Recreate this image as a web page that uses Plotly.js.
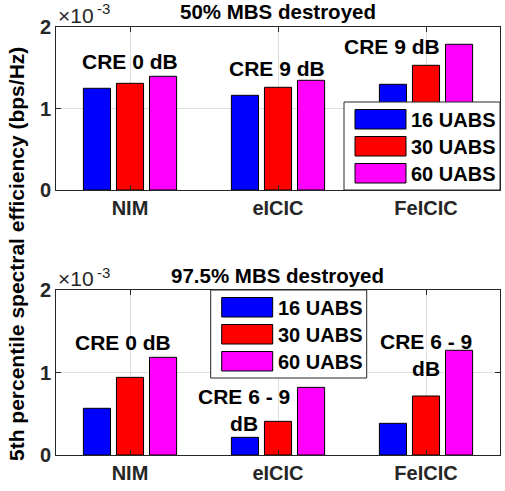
<!DOCTYPE html>
<html>
<head>
<meta charset="utf-8">
<script src="https://cdn.plot.ly/plotly-3.0.1.min.js"></script>
<style>html,body{margin:0;padding:0;background:#fff;}#chart{width:505px;height:491px;}</style>
</head>
<body>
<div id="chart"></div>
<script>
// ---- data (values in units of 1e-3 bps/Hz) ----
const categories = ["NIM", "eICIC", "FeICIC"];
const seriesNames = ["16 UABS", "30 UABS", "60 UABS"];
const seriesColors = ["#0000ff", "#ff0000", "#ff00ff"];
const top16 = [1.248, 1.162, 1.297];
const top30 = [1.309, 1.260, 1.530];
const top60 = [1.395, 1.346, 1.788];
const bot16 = [0.566, 0.214, 0.384];
const bot30 = [0.941, 0.408, 0.715];
const bot60 = [1.184, 0.820, 1.269];
const topTitle = "50% MBS destroyed";
const botTitle = "97.5% MBS destroyed";
const yTitle = "5th percentile spectral efficiency (bps/Hz)";
const topNotes = [["CRE 0 dB", 0, 1.571], ["CRE 9 dB", 0.99, 1.485], ["CRE 9 dB", 1.77, 1.755]];
const botNotes = [["CRE 0 dB", -0.045, 1.364], ["CRE 6 - 9<br>dB", 0.77, 0.545], ["CRE 6 - 9<br>dB", 2.0, 1.218]];
const yTickVals = [0, 1, 2];
const expBase = "×10";
const expPower = "-3";

const W = 505, H = 491;
const px = x => x / W;
const py = y => 1 - y / H;
const ink = "#262626";
const FONT = "Liberation Sans, Arial, sans-serif";

const traces = [];
[[top16, top30, top60, "x", "y"], [bot16, bot30, bot60, "x2", "y2"]].forEach(([a, b, c, xa, ya]) => {
  [a, b, c].forEach((vals, i) => {
    traces.push({
      type: "bar", x: categories, y: vals, xaxis: xa, yaxis: ya,
      name: seriesNames[i], showlegend: false,
      marker: {color: seriesColors[i], line: {color: "#000", width: 1}},
      hoverinfo: "skip"
    });
  });
});

function xaxisDef(anchor) {
  return {
    domain: [px(56), px(500)], anchor: anchor, type: "category",
    range: [-0.5, 2.5], showline: true, mirror: "ticks", linecolor: ink, linewidth: 1,
    ticks: "inside", ticklen: 5, tickcolor: ink, showgrid: true, gridcolor: "#dfdfdf",
    tickfont: {family: FONT, size: 20, color: ink, weight: "bold"}, zeroline: false,
    fixedrange: true
  };
}
function yaxisDef(anchor, y0, y1) {
  return {
    domain: [py(y1), py(y0)], anchor: anchor, range: [0, 2],
    tickvals: yTickVals, ticktext: yTickVals.map(String),
    showline: true, mirror: "ticks", linecolor: ink, linewidth: 1,
    ticks: "inside", ticklen: 5, tickcolor: ink, showgrid: true, gridcolor: "#dfdfdf",
    tickfont: {family: FONT, size: 20, color: ink, weight: "bold"}, zeroline: false,
    fixedrange: true
  };
}

const annotations = [];
const shapes = [];
function note(text, x, y, xr, yr) {
  annotations.push({text: text, x: x, y: y, xref: xr, yref: yr, showarrow: false,
    xanchor: "center", yanchor: "middle",
    font: {family: FONT, size: 21, color: "#000", weight: "bold"}});
}
topNotes.forEach(n => note(n[0], n[1], n[2], "x", "y"));
botNotes.forEach(n => note(n[0], n[1], n[2], "x2", "y2"));

// subplot titles
[[topTitle, 12], [botTitle, 275.5]].forEach(([t, y]) => {
  annotations.push({text: t, x: px(277.5), y: py(y), xref: "paper", yref: "paper",
    showarrow: false, xanchor: "center", yanchor: "middle",
    font: {family: FONT, size: 20.5, color: "#000", weight: "bold"}});
});
// exponent labels
[15, 278].forEach(y => {
  annotations.push({text: expBase, x: px(56), y: py(y), xref: "paper", yref: "paper",
    showarrow: false, xanchor: "left", yanchor: "middle",
    font: {family: FONT, size: 21, color: ink}});
  annotations.push({text: expPower, x: px(95), y: py(y - 6), xref: "paper", yref: "paper",
    showarrow: false, xanchor: "left", yanchor: "middle",
    font: {family: FONT, size: 15, color: ink}});
});
// y title
annotations.push({text: yTitle, x: px(16), y: py(254), xref: "paper", yref: "paper",
  showarrow: false, textangle: -90, xanchor: "center", yanchor: "middle",
  font: {family: FONT, size: 21, color: "#000", weight: "bold"}});

// legends (drawn boxes)
function legend(x0, y0) {
  shapes.push({type: "rect", xref: "paper", yref: "paper", x0: px(x0), x1: px(x0 + 156),
    y0: py(y0 + 88), y1: py(y0), fillcolor: "#fff", line: {color: ink, width: 1}, layer: "above"});
  seriesNames.forEach((nm, i) => {
    const ry = y0 + 7.5 + i * 27;
    shapes.push({type: "rect", xref: "paper", yref: "paper", x0: px(x0 + 11), x1: px(x0 + 62),
      y0: py(ry + 19.5), y1: py(ry), fillcolor: seriesColors[i], line: {color: "#000", width: 1}, layer: "above"});
    annotations.push({text: nm, x: px(x0 + 65), y: py(ry + 10), xref: "paper", yref: "paper",
      showarrow: false, xanchor: "left", yanchor: "middle",
      font: {family: FONT, size: 20, color: "#000", weight: "bold"}});
  });
}
legend(344, 102);
legend(210.7, 290);

const layout = {
  width: W, height: H, margin: {l: 0, r: 0, t: 0, b: 0},
  paper_bgcolor: "#fff", plot_bgcolor: "#fff",
  barmode: "group", bargap: 0.33, bargroupgap: 0.18,
  showlegend: false,
  xaxis: xaxisDef("y"), yaxis: yaxisDef("x", 27, 190),
  xaxis2: xaxisDef("y2"), yaxis2: yaxisDef("x2", 290, 455),
  annotations: annotations, shapes: shapes
};
Plotly.newPlot("chart", traces, layout, {displayModeBar: false, staticPlot: true});
</script>
</body>
</html>
